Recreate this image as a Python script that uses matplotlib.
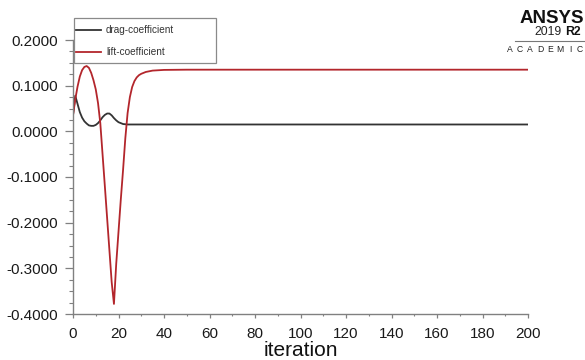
import matplotlib
matplotlib.use("Agg")
import matplotlib.pyplot as plt
from matplotlib.lines import Line2D
from matplotlib.patches import Rectangle
from matplotlib.ticker import MultipleLocator, FormatStrFormatter

plt.rcParams["font.family"] = ["Liberation Sans", "DejaVu Sans"]

# Residual monitor history: iteration number and coefficient values
iterations_drag = [0, 1, 2, 3, 4, 5, 6, 7, 8, 9, 10, 11, 12, 13, 14, 15, 16,
                   17, 18, 19, 20, 21, 22, 24, 30, 200]
drag_coefficient = [0.035, 0.078, 0.060, 0.042, 0.030, 0.022, 0.017, 0.013,
                    0.012, 0.012, 0.014, 0.018, 0.024, 0.031, 0.036, 0.039,
                    0.039, 0.035, 0.029, 0.024, 0.020, 0.018, 0.016, 0.015,
                    0.015, 0.015]

iterations_lift = [0, 1, 2, 3, 4, 5, 6, 7, 8, 9, 10, 11, 12, 13, 14, 15, 16,
                   17, 18, 19, 20, 21, 22, 23, 24, 25, 26, 27, 28, 29, 30,
                   32, 35, 40, 50, 200]
lift_coefficient = [0.035, 0.070, 0.098, 0.120, 0.134, 0.141, 0.143, 0.139,
                    0.128, 0.112, 0.092, 0.062, 0.018, -0.051, -0.120, -0.190,
                    -0.260, -0.330, -0.378, -0.290, -0.220, -0.150, -0.085,
                    -0.015, 0.040, 0.075, 0.097, 0.110, 0.118, 0.123, 0.126,
                    0.130, 0.133, 0.1345, 0.135, 0.135]

series_names = ["drag-coefficient", "lift-coefficient"]
series_colors = ["#333333", "#b3262c"]

x_ticks = [0, 20, 40, 60, 80, 100, 120, 140, 160, 180, 200]
y_ticks = [-0.4, -0.3, -0.2, -0.1, 0.0, 0.1, 0.2]

W, H = 585, 360
fig = plt.figure(figsize=(W / 100, H / 100), dpi=100)
ax_bottom_px, ax_top_px = 314, 40
ax = fig.add_axes([73 / W, 1 - ax_bottom_px / H, (528 - 73) / W,
                   (ax_bottom_px - ax_top_px) / H])

ax.plot(iterations_drag, drag_coefficient, color=series_colors[0], lw=1.3)
ax.plot(iterations_lift, lift_coefficient, color=series_colors[1], lw=1.3)

ax.set_xlim(0, 200)
ax.set_ylim(-0.4, 0.2)
ax.set_xticks(x_ticks)
ax.set_yticks(y_ticks)
ax.yaxis.set_major_formatter(FormatStrFormatter("%.4f"))
ax.xaxis.set_minor_locator(MultipleLocator(10))
ax.yaxis.set_minor_locator(MultipleLocator(0.025))

for side in ("top", "right"):
    ax.spines[side].set_visible(False)
for side in ("left", "bottom"):
    ax.spines[side].set_color("#808080")
    ax.spines[side].set_linewidth(1.0)

ax.tick_params(axis="y", which="major", length=5.8, width=0.9, color="#808080",
               pad=5, labelsize=11, labelcolor="#1a1a1a")
ax.tick_params(axis="y", which="minor", length=3, width=0.8, color="#808080")
ax.tick_params(axis="x", which="major", length=3, width=0.9, color="#808080",
               pad=6, labelsize=11, labelcolor="#1a1a1a")
ax.tick_params(axis="x", which="minor", length=1.6, width=0.8, color="#808080")

ax.set_xlabel("iteration", fontsize=15, color="#111111", va="baseline")
ax.xaxis.set_label_coords(0.5, (ax_bottom_px - 356) / (ax_bottom_px - ax_top_px))

# Legend box drawn in figure pixels
def px(x, y):
    return x / W, 1 - y / H

x0, y0 = px(74, 63)
x1, y1 = px(216, 18)
fig.add_artist(Rectangle((x0, y0), x1 - x0, y1 - y0, transform=fig.transFigure,
                         facecolor="white", edgecolor="#8a8a8a", lw=0.9))
for name, color, ypix in zip(series_names, series_colors, [30, 52]):
    lx0, ly = px(76, ypix)
    lx1, _ = px(101, ypix)
    fig.add_artist(Line2D([lx0, lx1], [ly, ly], transform=fig.transFigure,
                          color=color, lw=1.3))
    tx, ty = px(106, ypix)
    fig.text(tx, ty, name, fontsize=7.2, color="#333333", va="center", ha="left")

# Product badge in the top right corner
fig.text(584 / W, 1 - 18.3 / H, "ANSYS", fontsize=13.5, fontweight="bold",
         color="#111111", va="center", ha="right")
fig.text(562 / W, 1 - 32 / H, "2019", fontsize=8.8, color="#222222",
         va="center", ha="right")
fig.text(565 / W, 1 - 32 / H, "R2", fontsize=8.8, fontweight="bold",
         color="#111111", va="center", ha="left")
lx0, ly = px(515, 40.5)
lx1, _ = px(585, 40.5)
fig.add_artist(Line2D([lx0, lx1], [ly, ly], transform=fig.transFigure,
                      color="#777777", lw=0.8))
for i, letter in enumerate("ACADEMIC"):
    fig.text((510 + 10 * i) / W, 1 - 49.5 / H, letter, fontsize=6.2,
             color="#222222", va="center", ha="center")

fig.savefig("out.png", dpi=100, facecolor="white")
